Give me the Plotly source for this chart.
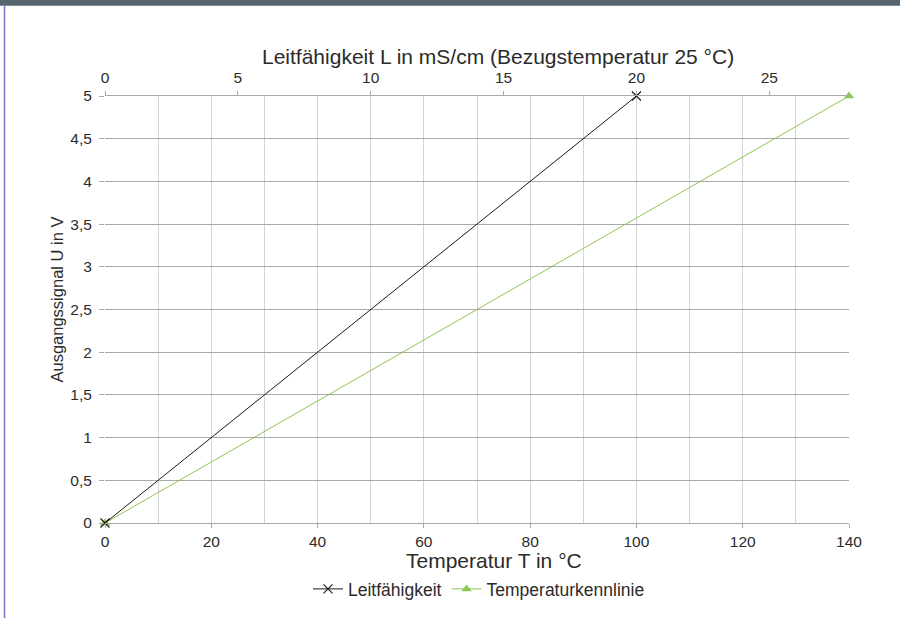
import plotly.graph_objects as go

# Data
leit_x = [0, 20]          # Leitfähigkeit in mS/cm (top axis)
leit_y = [0, 5]           # Ausgangssignal in V
temp_x = [0, 140]         # Temperatur in °C (bottom axis)
temp_y = [0, 5]           # Ausgangssignal in V

x_bottom_ticks = [0, 20, 40, 60, 80, 100, 120, 140]
x_top_ticks = [0, 5, 10, 15, 20, 25]
y_ticks = [0, 0.5, 1, 1.5, 2, 2.5, 3, 3.5, 4, 4.5, 5]

FONT = "Liberation Sans, Arial, sans-serif"
TXT = "#2b2b2b"
HGRID = "#a9a9a9"
VGRID = "#d3d3d3"
GREEN = "#8cc653"
TICKF = 15.5

W, H = 900, 618
L, R, T, B = 105, 51, 96, 94
pw, ph = W - L - R, H - T - B

def px(x):
    return (x - L) / pw

def py(y):
    return (H - B - y) / ph

fig = go.Figure()

fig.add_trace(go.Scatter(
    x=temp_x, y=temp_y, name="Temperaturkennlinie", mode="lines+markers",
    line=dict(color=GREEN, width=1),
    marker=dict(symbol="triangle-up", size=9, color=GREEN),
    cliponaxis=False, legendrank=2, xaxis="x", yaxis="y",
))
fig.add_trace(go.Scatter(
    x=leit_x, y=leit_y, name="Leitfähigkeit", mode="lines+markers",
    line=dict(color="#1a1a1a", width=1),
    marker=dict(symbol="x-thin", size=9, line=dict(color="#1a1a1a", width=1.2)),
    cliponaxis=False, legendrank=1, xaxis="x2", yaxis="y",
))

fig.update_layout(
    width=W, height=H,
    margin=dict(l=L, r=R, t=T, b=B),
    paper_bgcolor="white", plot_bgcolor="white",
    separators=",.",
    font=dict(family=FONT, size=TICKF, color=TXT),
    showlegend=True,
    legend=dict(orientation="h", x=px(479), xanchor="center", xref="paper",
                y=py(589), yanchor="middle", font=dict(size=17.5, color=TXT),
                itemwidth=30, traceorder="normal"),
    xaxis=dict(range=[0, 140], tickvals=x_bottom_ticks, showgrid=True,
               gridcolor=VGRID, gridwidth=1,
               minor=dict(dtick=10, showgrid=True, gridcolor=VGRID, ticks=""),
               ticks="outside", ticklen=4, tickcolor=HGRID,
               showline=True, linecolor=HGRID, linewidth=1,
               zeroline=False, tickfont=dict(size=TICKF, color=TXT)),
    xaxis2=dict(range=[0, 28], tickvals=x_top_ticks, overlaying="x", side="top",
                showgrid=False, ticks="outside", ticklen=4, tickcolor=HGRID,
                showline=True, linecolor=HGRID, linewidth=1, zeroline=False,
                ticklabelstandoff=2,
                tickfont=dict(size=TICKF, color=TXT)),
    yaxis=dict(range=[0, 5], tickvals=y_ticks, showgrid=True, gridcolor=HGRID,
               gridwidth=1, ticks="outside", ticklen=5, tickcolor=HGRID,
               showline=False, zeroline=False, ticklabelstandoff=4,
               tickfont=dict(size=TICKF, color=TXT)),
)

fig.add_annotation(text="Leitfähigkeit L in mS/cm (Bezugstemperatur 25 °C)",
                   xref="paper", yref="paper", x=px(498), y=py(56),
                   showarrow=False, font=dict(size=21, color=TXT),
                   xanchor="center", yanchor="middle")
fig.add_annotation(text="Temperatur T in °C",
                   xref="paper", yref="paper", x=px(494), y=py(562),
                   showarrow=False, font=dict(size=21, color=TXT),
                   xanchor="center", yanchor="middle")
fig.add_annotation(text="Ausgangssignal U in V",
                   xref="paper", yref="paper", x=px(57), y=py(300),
                   showarrow=False, textangle=-90, font=dict(size=16.5, color=TXT),
                   xanchor="center", yanchor="middle")

# Frame decorations: dark bar on top, blue line on left
fig.add_shape(type="rect", xref="paper", yref="paper",
              x0=px(-2), x1=px(W + 2), y0=py(5.5), y1=py(-2),
              fillcolor="#56656f", line=dict(width=0), layer="above")
fig.add_shape(type="line", xref="paper", yref="paper",
              x0=px(4.5), x1=px(4.5), y0=py(5), y1=py(H + 2),
              line=dict(color="#7378cc", width=1.5), layer="above")

fig.write_html("out.html",
               config={"displayModeBar": False},
               post_script="document.body.style.margin='0';document.body.style.padding='0';")
